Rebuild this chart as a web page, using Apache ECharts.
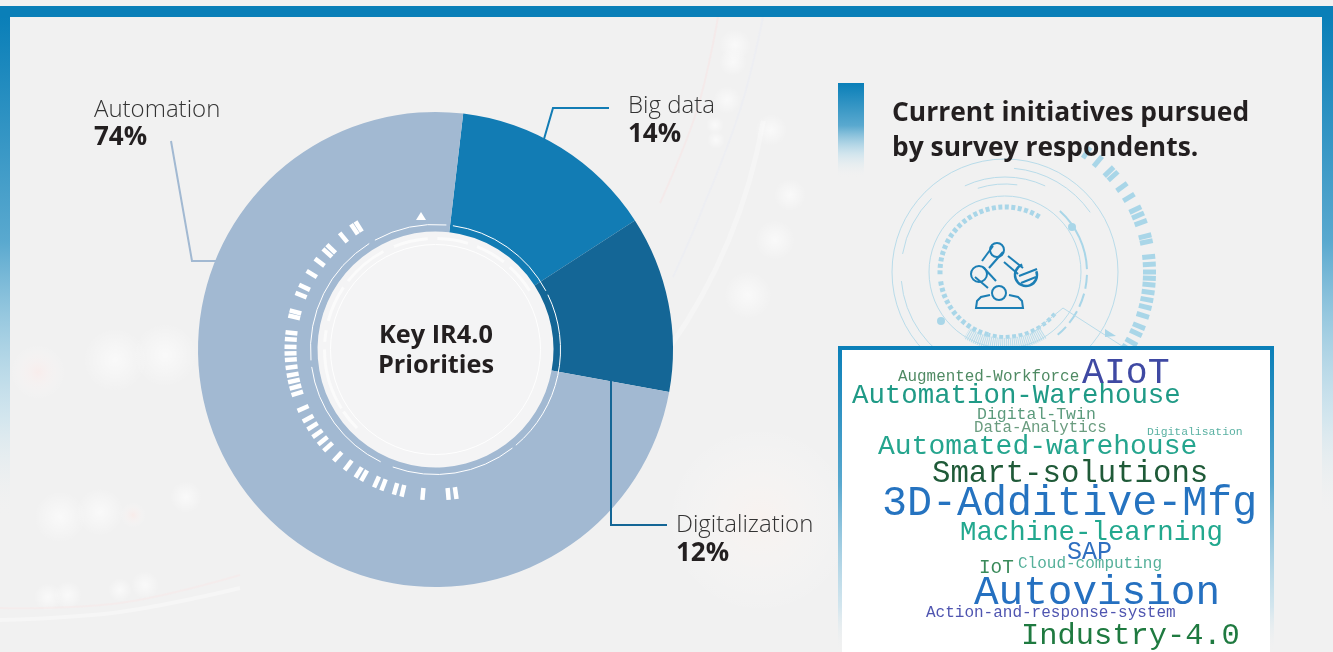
<!DOCTYPE html>
<html>
<head>
<meta charset="utf-8">
<script src="https://cdn.jsdelivr.net/npm/echarts@6/dist/echarts.min.js"></script>
<style>
  html, body { margin: 0; padding: 0; background: #f1f1f1; }
  #chart { width: 1333px; height: 652px; }
</style>
</head>
<body>
<div id="chart"></div>
<script>
// chart values
const categories = ['Big data', 'Digitalization', 'Automation'];
const shares = [14, 12, 74];
const sliceColors = ['#127cb4', '#146696', '#a2b9d2'];

const words = ['Augmented-Workforce', 'AIoT', 'Automation-Warehouse', 'Digital-Twin', 'Data-Analytics',
    'Digitalisation', 'Automated-warehouse', 'Smart-solutions', '3D-Additive-Mfg', 'Machine-learning',
    'SAP', 'IoT', 'Cloud-computing', 'Autovision', 'Action-and-response-system', 'Industry-4.0'];
const wordSizes = [15.9, 36.5, 27.4, 16.5, 15.8, 11.4, 28, 30.7, 41.7, 27.4, 25, 19.3, 16, 41, 16, 30.4];
const wordColors = ['#4f8a63', '#3f49a3', '#1f9a86', '#5b9a7c', '#6a9c7f', '#5ab1a2', '#25a58e', '#1f5a38',
    '#2573c0', '#22a88e', '#2f6fc0', '#3a8a5a', '#55b09a', '#2570c0', '#4f55b0', '#1f7a40'];
const wordX = [898, 1082, 852, 977, 974, 1147, 878, 932, 882, 960, 1067, 979, 1018, 974, 926, 1021];
const wordY = [377, 373, 396, 415, 428, 432, 447, 474, 504, 533, 552, 568, 564, 593, 613, 636];

// white ticks round the donut, bearings clockwise from 12 o'clock
const ringTicks = [172, 175, 185, 193, 196, 201, 204, 209.5, 212, 217, 222.4, 227.8, 231, 234.5, 238, 241.5, 246,
    252.4, 255, 257.5, 260, 263, 266, 268.5, 271, 274, 276.6, 283, 285, 292, 295.4, 301.4, 307, 311.8, 314, 320.6, 326, 328];
const haloTicks = [34.4, 40, 46, 48.4, 54, 59, 64.4, 67, 70, 75.7, 78, 84, 87, 90, 92.5, 95, 98, 101, 104, 107.5, 112, 115, 119, 122];

const cx = 435.5, cy = 349.5;
const robotX = 1005, robotY = 272;
const rad = d => (d - 90) * Math.PI / 180;

const bg = [], fg = [];

function blob(x, y, r, color) {
    bg.push({
        type: 'circle', z: -1, silent: true, shape: { cx: x, cy: y, r: r },
        style: { fill: { type: 'radial', x: 0.5, y: 0.5, r: 0.5, colorStops: [
            { offset: 0, color: color }, { offset: 1, color: 'rgba(255,255,255,0)' }] } }
    });
}
function bgArc(x, y, r, a0, a1, color, width) {
    bg.push({
        type: 'arc', z: -1, silent: true,
        shape: { cx: x, cy: y, r: r, startAngle: rad(a0), endAngle: rad(a1) },
        style: { stroke: color, lineWidth: width, fill: null }
    });
}
function bgCurve(pts, color, width) {
    bg.push({
        type: 'polyline', z: -1, silent: true,
        shape: { points: pts, smooth: 0.4 },
        style: { stroke: color, lineWidth: width, fill: null }
    });
}
function arc(list, x, y, r, a0, a1, color, width, dash, z) {
    list.push({
        type: 'arc', z: z === undefined ? 10 : z, silent: true,
        shape: { cx: x, cy: y, r: r, startAngle: rad(a0), endAngle: rad(a1) },
        style: { stroke: color, lineWidth: width, fill: null, lineDash: dash || null }
    });
}
function line(list, pts, color, width, z) {
    list.push({
        type: 'polyline', z: z === undefined ? 10 : z, silent: true,
        shape: { points: pts },
        style: { stroke: color, lineWidth: width, fill: null }
    });
}
function text(list, t, x, y, font, fill, align, z) {
    list.push({
        type: 'text', z: z === undefined ? 12 : z, silent: true,
        x: x, y: y,
        style: { text: t, font: font, fill: fill, align: align || 'left', verticalAlign: 'middle' }
    });
}
function tick(list, x, y, bearing, r0, r1, color, width, z) {
    const a = rad(bearing);
    line(list, [[x + r0 * Math.cos(a), y + r0 * Math.sin(a)], [x + r1 * Math.cos(a), y + r1 * Math.sin(a)]], color, width, z);
}
function gradBox(x, y, w, h, stop, z) {
    fg.push({
        type: 'rect', z: z, silent: true, shape: { x: x, y: y, width: w, height: h },
        style: { fill: { type: 'linear', x: 0, y: 0, x2: 0, y2: 1, colorStops: [
            { offset: 0, color: '#0a7fb8' }, { offset: 0.45, color: '#5aa9cf' },
            { offset: stop, color: 'rgba(190,222,236,0.6)' }, { offset: 1, color: 'rgba(241,241,241,0)' }] } }
    });
}

// faded photo behind everything
[[735, 45, 16], [733, 62, 14], [727, 100, 14], [715, 125, 9], [716, 140, 9], [771, 130, 16], [790, 195, 16], [775, 240, 20],
 [748, 295, 24], [115, 360, 32], [165, 355, 32], [186, 497, 16], [60, 517, 26], [100, 512, 24], [120, 590, 12],
 [145, 585, 14], [48, 597, 14], [68, 595, 14]].forEach(b => blob(b[0], b[1], b[2], 'rgba(255,255,255,0.6)'));
blob(38, 372, 28, 'rgba(255,232,230,0.5)');
blob(133, 515, 13, 'rgba(255,230,226,0.5)');
blob(760, 520, 95, 'rgba(255,243,237,0.5)');
bgArc(203, 22, 569, 100, 125, 'rgba(255,255,255,0.3)', 5);
bgCurve([[718, 17], [697, 110], [660, 203]], 'rgba(250,226,224,0.4)', 2);
bgCurve([[763, 17], [740, 110], [700, 215], [673, 277]], 'rgba(232,234,245,0.4)', 2);
bgCurve([[0, 608], [120, 603], [240, 575]], 'rgba(250,230,230,0.4)', 2);
bgCurve([[0, 620], [120, 612], [240, 588]], 'rgba(255,255,255,0.35)', 4);

// rings and ticks on the donut
fg.push({ type: 'circle', z: 1, silent: true, shape: { cx: cx, cy: cy, r: 118.5 }, style: { fill: '#f4f4f5' } });
ringTicks.forEach(b => tick(fg, cx, cy, b, 139, 151, '#ffffff', 4.5));
fg.push({
    type: 'polygon', z: 10, silent: true,
    shape: { points: [[421, 212], [426, 220], [416, 220]] }, style: { fill: '#fff' }
});
[[8, 62], [64, 140], [142, 200], [206, 262], [265, 328], [331, 365]].forEach(a => arc(fg, cx, cy, 125, a[0], a[1], '#ffffff', 1));
arc(fg, cx, cy, 105, 0, 359.9, '#ffffff', 1);
[[-52, -28], [-22, -4], [1, 17], [22, 38], [42, 58], [-75, -56], [-86, -80], [-122, -90], [-135, -124]].forEach(a => arc(fg, cx, cy, 111, a[0], a[1], '#fbfbfb', 3));

// leader lines
line(fg, [[171, 141], [192, 261], [218, 261]], '#a2b9d2', 2);
line(fg, [[544, 139], [553, 108], [609, 108]], '#127cb4', 2);
line(fg, [[611, 379], [611, 525], [667, 525]], '#146696', 2);

text(fg, 'Key IR4.0', 436, 336, '700 25.3px "Open Sans"', '#231f20', 'center');
text(fg, 'Priorities', 436, 366, '700 25.3px "Open Sans"', '#231f20', 'center');

// right panel heading
gradBox(838, 83, 26, 95, 0.75, 5);
text(fg, 'Current initiatives pursued', 892, 113, '700 26.4px "Open Sans"', '#231f20');
text(fg, 'by survey respondents.', 892, 148, '700 26.4px "Open Sans"', '#231f20');

// tech circle behind the robot icon
const pale = '#b9dcea', mid = '#a9d6e8';
haloTicks.forEach(b => tick(fg, robotX, robotY, b, 138, 151, mid, 5, 4));
arc(fg, robotX, robotY, 113, 0, 359.9, pale, 1, null, 4);
arc(fg, robotX, robotY, 76, 0, 359.9, pale, 1, null, 4);
arc(fg, robotX, robotY, 65, -92, 33, mid, 5, [4, 2.5], 4);
arc(fg, robotX, robotY, 65, 195, 262, mid, 5, [4, 2.5], 4);
arc(fg, robotX, robotY, 65, 130, 195, mid, 4, [4, 2.5], 4);
arc(fg, robotX, robotY, 72, 148, 212, pale, 12, [1, 1], 4);
arc(fg, robotX, robotY, 82, 42, 88, mid, 2, null, 4);
arc(fg, robotX, robotY, 82, 92, 140, mid, 2, [14, 5], 4);
arc(fg, robotX, robotY, 104, -80, -45, pale, 1, null, 4);
arc(fg, robotX, robotY, 104, 5, 55, pale, 1, null, 4);
arc(fg, robotX, robotY, 104, 205, 265, pale, 1, null, 4);
arc(fg, robotX, robotY, 95, -25, 25, pale, 1, null, 4);
arc(fg, robotX, robotY, 88, -18, 8, pale, 1, null, 4);
line(fg, [[1063, 308], [1122, 346]], pale, 1, 4);
line(fg, [[1063, 308], [1030, 335]], pale, 1, 4);
fg.push({ type: 'circle', z: 4, silent: true, shape: { cx: 1072, cy: 227, r: 4 }, style: { fill: mid } });
fg.push({ type: 'circle', z: 4, silent: true, shape: { cx: 941, cy: 321, r: 4 }, style: { fill: mid } });
fg.push({ type: 'polygon', z: 4, silent: true, shape: { points: [[1105, 329], [1116, 336], [1105, 337]] }, style: { fill: mid } });

// robot icon
const ink = '#1c7fb5';
[[997, 250, 7], [979, 274, 8], [999, 293, 7]].forEach(c => fg.push({
    type: 'circle', z: 6, silent: true, shape: { cx: c[0], cy: c[1], r: c[2] }, style: { fill: null, stroke: ink, lineWidth: 2 }
}));
arc(fg, 1026, 275, 11, 70, 340, ink, 2.5, null, 6);
line(fg, [[1019, 276], [1037, 269]], ink, 2, 6);
line(fg, [[1021, 283], [1036, 277]], ink, 2, 6);
line(fg, [[982, 261], [993, 246]], ink, 2, 6);
line(fg, [[989, 268], [1003, 252]], ink, 2, 6);
line(fg, [[983, 267], [996, 281]], ink, 2, 6);
line(fg, [[975, 277], [988, 288]], ink, 2, 6);
line(fg, [[1008, 256], [1023, 268]], ink, 2, 6);
line(fg, [[1004, 262], [1018, 274]], ink, 2, 6);
line(fg, [[990, 295], [981, 297], [977, 301], [976, 308], [1023, 308], [1022, 301], [1018, 297], [1009, 295]], ink, 2, 6);

// word cloud box
gradBox(838, 346, 436, 306, 0.85, 7);
fg.push({ type: 'rect', z: 8, silent: true, shape: { x: 842, y: 350, width: 428, height: 302 }, style: { fill: '#ffffff' } });
words.forEach((w, i) => text(fg, w, wordX[i], wordY[i], wordSizes[i] + 'px "Liberation Mono"', wordColors[i]));

// frame
fg.push({ type: 'rect', z: 20, silent: true, shape: { x: 0, y: 6, width: 1333, height: 11 }, style: { fill: '#0a7fb8' } });
gradBox(0, 17, 10, 500, 0.8, 20);
gradBox(1322, 17, 11, 500, 0.8, 20);

const labelPos = [[628, 120.5], [676, 539.5], [94, 124]];

const chart = echarts.init(document.getElementById('chart'));
chart.setOption({
    animation: false,
    backgroundColor: '#f1f1f1',
    graphic: { elements: bg.concat(fg) },
    series: [{
        type: 'pie',
        silent: true,
        center: [cx, cy],
        radius: [118, 237.5],
        startAngle: 83.3,
        itemStyle: { borderWidth: 0 },
        labelLine: { show: false },
        label: {
            formatter: '{n|{b}}\n{v|{c}%}',
            rich: {
                n: { fontFamily: 'Open Sans', fontWeight: 300, fontSize: 24, color: '#333', lineHeight: 28 },
                v: { fontFamily: 'Open Sans', fontWeight: 700, fontSize: 26, color: '#231f20', lineHeight: 28 }
            }
        },
        labelLayout: function (params) {
            const p = labelPos[params.dataIndex];
            return { x: p[0], y: p[1], align: 'left', verticalAlign: 'middle' };
        },
        data: categories.map((c, i) => ({ name: c, value: shares[i], itemStyle: { color: sliceColors[i] } }))
    }]
});
</script>
</body>
</html>
